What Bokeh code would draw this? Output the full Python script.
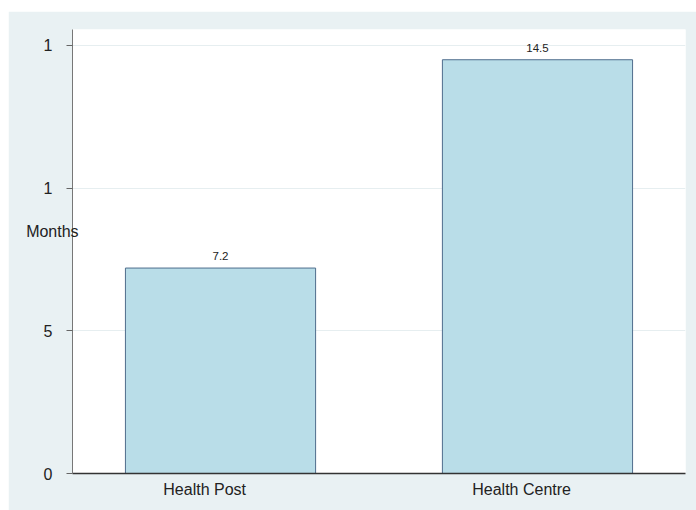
from bokeh.plotting import figure
from bokeh.models import ColumnDataSource, FixedTicker, Range1d, Spacer
from bokeh.layouts import column, row
from bokeh.core.properties import value
from bokeh.embed import file_html
from bokeh.resources import INLINE

categories = ["Health Post", "Health Centre"]
months = [7.2, 14.5]
labels = ["7.2", "14.5"]
y_ticks = [0, 5, 10, 15]
y_tick_labels = {0: "0", 5: "5", 10: "1", 15: "1"}

xpos = list(range(len(categories)))
LABEL_SHIFT = 0.05  # tick labels sit slightly left of bar centres in the reference
x_ticks = [i - LABEL_SHIFT for i in xpos]
x_tick_labels = {t: c for t, c in zip(x_ticks, categories)}

src = ColumnDataSource(dict(x=xpos, val=months, lab=labels))

BG = "#e9f1f3"
p = figure(width=688, height=499, output_backend="svg", toolbar_location=None,
           x_range=Range1d(-0.467, 1.467),
           y_range=Range1d(0, 15.56),
           min_border_left=64, min_border_right=11, min_border_top=18, min_border_bottom=37)
p.border_fill_color = BG
p.background_fill_color = "white"
p.outline_line_color = None

p.vbar(x="x", top="val", width=0.6, source=src, fill_color="#b9dde8",
       line_color="#4f6d8c", line_width=1)
p.text(x="x", y="val", text="lab", source=src, text_align="center",
       text_baseline="bottom", y_offset=-8, text_font_size="11.5px",
       text_color="#222222", text_font=value("Liberation Sans"))

p.yaxis.ticker = FixedTicker(ticks=y_ticks)
p.yaxis.major_label_overrides = y_tick_labels
p.yaxis.minor_tick_line_color = None
p.yaxis.major_tick_out = 6
p.yaxis.major_tick_in = 0
p.yaxis.major_tick_line_color = "#666666"
p.yaxis.axis_line_color = "#777777"
p.yaxis.major_label_standoff = 14
p.yaxis.major_label_text_font_size = "16px"
p.yaxis.major_label_text_font = "Liberation Sans"
p.yaxis.major_label_text_color = "#222222"
p.yaxis.axis_label = "Months\n\n"
p.yaxis.axis_label_orientation = "horizontal"
p.yaxis.axis_label_standoff = -38
p.yaxis.axis_label_text_font_style = "normal"
p.yaxis.axis_label_text_font_size = "16px"
p.yaxis.axis_label_text_font = "Liberation Sans"
p.yaxis.axis_label_text_color = "#222222"

p.xaxis.ticker = FixedTicker(ticks=x_ticks)
p.xaxis.major_label_overrides = x_tick_labels
p.xaxis.minor_tick_line_color = None
p.xaxis.major_tick_line_color = None
p.xaxis.axis_line_color = "#333333"
p.xaxis.axis_line_width = 1.5
p.xaxis.major_label_standoff = 1
p.xaxis.major_label_text_font_size = "16px"
p.xaxis.major_label_text_font = "Liberation Sans"
p.xaxis.major_label_text_color = "#222222"

p.xgrid.grid_line_color = None
p.ygrid.ticker = FixedTicker(ticks=[5, 10, 15])
p.ygrid.grid_line_color = "#e6eef0"

layout = column(Spacer(width=696, height=11), row(Spacer(width=8, height=499), p))

open("out.html", "w").write(file_html(layout, INLINE))
